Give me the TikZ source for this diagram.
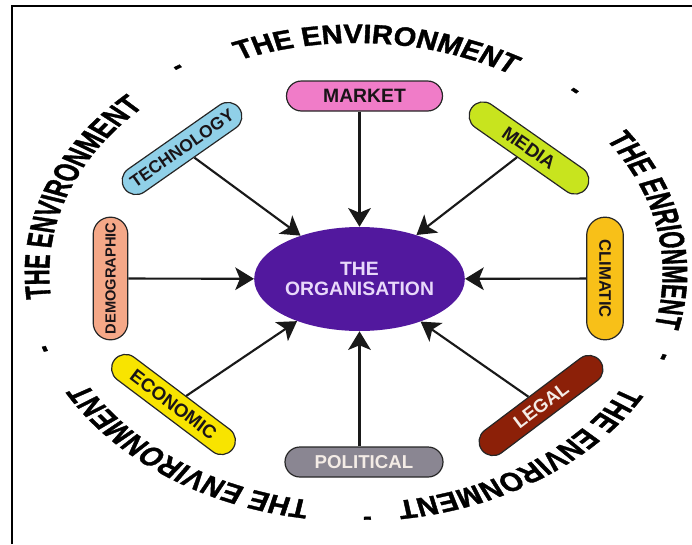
\documentclass[tikz,border=0pt]{standalone}
\usepackage{fontspec}
\setmainfont{Liberation Sans}
\newfontfamily\envfont[FakeStretch=0.82,FakeBold=1.2]{Liberation Sans}
\usetikzlibrary{arrows.meta,decorations.text,shapes.misc,shapes.geometric}
\definecolor{orgpurple}{HTML}{52189E}
\definecolor{orgtext}{HTML}{E8D8FA}
\definecolor{marketpink}{HTML}{F07CC8}
\definecolor{techblue}{HTML}{90D0E8}
\definecolor{mediagreen}{HTML}{C8E41E}
\definecolor{demosalmon}{HTML}{F5A888}
\definecolor{climgold}{HTML}{F8C018}
\definecolor{econyellow}{HTML}{F8E400}
\definecolor{legalred}{HTML}{8C2008}
\definecolor{polgray}{HTML}{8A8692}
\definecolor{darktext}{HTML}{1A1418}
\definecolor{lighttext}{HTML}{F4ECE6}
\newcommand\envtext{\envfont\bfseries\fontsize{20}{24}\selectfont}
\begin{document}
\begin{tikzpicture}[x=0.75pt,y=0.75pt,
  pill/.style={rounded rectangle, draw=black!85, line width=0.9pt, inner sep=0pt,
    text=darktext, font=\bfseries\fontsize{14}{16}\selectfont},
  diag/.style={pill, minimum width=105pt, minimum height=21pt},
  arr/.style={line width=1.6pt, draw=black!90, -{Stealth[length=14pt,width=17pt,inset=3.5pt]}},
  dashmark/.style={font=\envfont\bfseries\fontsize{18}{18}\selectfont, inner sep=0pt},
  envpath/.style={decorate, decoration={text along path, text align=center, text={#1}}}
]
\useasboundingbox (-356,-271) rectangle (336,273);
\draw[line width=2.2pt] (-344,-271) -- (-344,267) -- (336,267);

% surrounding text
\begin{scope}[transform canvas={xscale=1.3333}]
  \path[envpath={|\envtext|THE ENVIRONMENT}] (131:230) arc[start angle=131, end angle=41, radius=230];
  \path[envpath={|\envtext|THE ENRIONMENT}] (56:230) arc[start angle=56, end angle=-34, radius=230];
  \path[envpath={|\envtext|THE ENVIRONMENT}] (-11:230) arc[start angle=-11, end angle=-101, radius=230];
  \path[envpath={|\envtext|THE ENVIRONMENT}] (-80:230) arc[start angle=-80, end angle=-170, radius=230];
  \path[envpath={|\envtext|THE ENVIRONMENT}] (205:230) arc[start angle=205, end angle=115, radius=230];
  \node[dashmark, rotate=33] (d1) at (123:243) {-};
  \node[dashmark, rotate=-42] (d2) at (48:243) {-};
  \node[dashmark, rotate=-110] (d3) at (-20:243) {-};
  \node[dashmark, rotate=-178] (d4) at (-88:243) {-};
  \node[dashmark, rotate=-252] (d5) at (-162:243) {-};
\end{scope}

% centre
\node[ellipse, fill=orgpurple, minimum width=128pt, minimum height=78pt, inner sep=0pt,
  text=orgtext, align=center, font=\bfseries\fontsize{14.5}{15}\selectfont] (org) at (3.5,-6) {THE\\ORGANISATION};

% factors
\node[pill, fill=marketpink, minimum width=117pt, minimum height=22.5pt,
  font=\bfseries\fontsize{14.5}{16}\selectfont] (market) at (8.5,177) {MARKET};
\node[diag, fill=techblue, rotate=35, font=\bfseries\fontsize{13}{15}\selectfont] (tech) at (-174,124.5) {TECHNOLOGY};
\node[diag, fill=mediagreen, rotate=-35] (media) at (173,125) {MEDIA};
\node[pill, fill=demosalmon, minimum width=92pt, minimum height=26pt, rotate=90,
  font=\bfseries\fontsize{11}{12}\selectfont] (demo) at (-245.5,-5.5) {DEMOGRAPHIC};
\node[pill, fill=climgold, minimum width=92pt, minimum height=27.5pt, rotate=-90,
  font=\bfseries\fontsize{12.5}{14}\selectfont] (clim) at (249,-5.5) {CLIMATIC};
\node[pill, fill=econyellow, minimum width=111pt, minimum height=21pt, rotate=-37] (econ) at (-182.5,-131.5) {ECONOMIC};
\node[pill, fill=legalred, text=lighttext, minimum width=111pt, minimum height=21pt, rotate=37] (legal) at (185,-132.5) {LEGAL};
\node[pill, fill=polgray, text=lighttext, minimum width=118.5pt, minimum height=22.5pt] (political) at (8,-189) {POLITICAL};

% connectors
\draw[arr] (market.south -| org.north) -- (org.north);
\draw[arr] (political.north -| org.south) -- (org.south);
\draw[arr] (tech) -- (org);
\draw[arr] (media) -- (org);
\draw[arr] (demo) -- (org);
\draw[arr] (clim) -- (org);
\draw[arr] (econ) -- (org);
\draw[arr] (legal) -- (org);
\end{tikzpicture}
\end{document}
